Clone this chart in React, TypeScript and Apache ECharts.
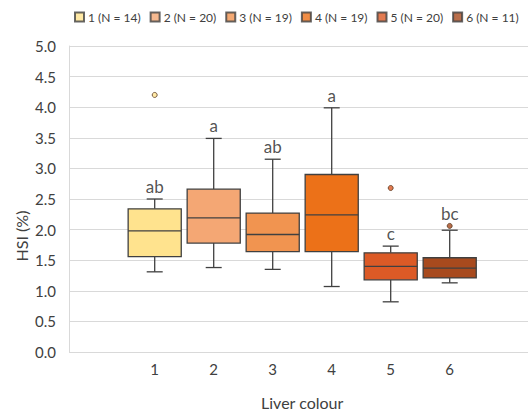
import React, { useEffect, useRef } from "react";
import * as echarts from "echarts";

const categories = ["1", "2", "3", "4", "5", "6"];
const legendNames = ["1 (N = 14)", "2 (N = 20)", "3 (N = 19)", "4 (N = 19)", "5 (N = 20)", "6 (N = 11)"];
const colors = ["#ffe38e", "#f4a774", "#f19450", "#ec7118", "#dc5a26", "#a84a1e"];
// [whiskerLow, Q1, median, Q3, whiskerHigh]
const boxValues = [
  [1.31, 1.56, 1.98, 2.34, 2.5],
  [1.38, 1.78, 2.19, 2.66, 3.49],
  [1.35, 1.64, 1.92, 2.27, 3.15],
  [1.07, 1.64, 2.24, 2.9, 3.99],
  [0.82, 1.18, 1.4, 1.62, 1.73],
  [1.13, 1.21, 1.37, 1.54, 1.99],
];
// [categoryIndex, value]
const outliers = [
  [0, 4.2],
  [4, 2.68],
  [5, 2.06],
];
const letters = ["ab", "a", "ab", "a", "c", "bc"];
const letterAnchors = [2.5, 3.49, 3.15, 3.99, 1.73, 2.06];
const yTicks = [0, 5, 0.5];

export default function App() {
  const ref = useRef<HTMLDivElement>(null);
  useEffect(() => {
    document.body.style.margin = "0";
    const chart = echarts.init(ref.current!, null, { renderer: "svg" });
    const font = "Lato, 'Open Sans', sans-serif";
    const option: any = {
      animation: false,
      backgroundColor: "#ffffff",
      textStyle: { fontFamily: font },
      legend: {
        top: 11,
        left: 74,
        width: 455,
        padding: 0,
        itemWidth: 9,
        itemHeight: 9,
        itemGap: 9,
        icon: "rect",
        textStyle: { fontSize: 12, color: "#404040", fontFamily: font, padding: [0, 0, 0, -1] },
        data: legendNames,
      },
      grid: [
        { left: 69, right: 1, top: 46, bottom: 60, outerBoundsMode: "none", containLabel: false },
        { left: 125.2, right: 49.8, top: 46, bottom: 60, outerBoundsMode: "none", containLabel: false },
      ],
      xAxis: [
        { type: "value", gridIndex: 0, min: 0, max: 1, show: false },
        {
          type: "category",
          gridIndex: 1,
          data: categories,
          axisLine: { show: false },
          axisTick: { show: false },
          axisLabel: { fontSize: 15, color: "#404040", margin: 9, fontFamily: font },
          name: "Liver colour",
          nameLocation: "middle",
          nameGap: 42,
          nameTextStyle: { fontSize: 16, color: "#404040", fontFamily: font },
        },
      ],
      yAxis: [
        {
          type: "value",
          gridIndex: 0,
          min: yTicks[0],
          max: yTicks[1],
          interval: yTicks[2],
          axisLine: { show: true, lineStyle: { color: "#d9d9d9" } },
          axisTick: { show: false },
          splitLine: { lineStyle: { color: "#d9d9d9", width: 1 } },
          axisLabel: {
            fontSize: 15,
            color: "#404040",
            margin: 13,
            fontFamily: font,
            formatter: (v: number) => v.toFixed(1),
          },
        },
        { type: "value", gridIndex: 1, min: yTicks[0], max: yTicks[1], show: false },
      ],
      graphic: [
        {
          type: "text",
          x: 21,
          y: 236,
          rotation: Math.PI / 2,
          style: {
            text: "HSI (%)",
            fill: "#404040",
            fontSize: 16,
            fontFamily: font,
            align: "center",
            verticalAlign: "middle",
          },
        },
      ],
      series: [
        ...legendNames.map((n, i) => ({
          name: n,
          type: "scatter",
          xAxisIndex: 1,
          yAxisIndex: 1,
          data: [],
          itemStyle: { color: colors[i], borderColor: "#404040", borderWidth: 1 },
        })),
        {
          type: "custom",
          xAxisIndex: 1,
          yAxisIndex: 1,
          data: boxValues.map((b, i) => [i, ...b]),
          renderItem: (params: any, api: any) => {
            const i = api.value(0);
            const lo = api.value(1), q1 = api.value(2), med = api.value(3), q3 = api.value(4), hi = api.value(5);
            const band = api.size([1, 0])[0];
            const w = band * 0.9;
            const cap = 16;
            const pLo = api.coord([i, lo]);
            const pQ1 = api.coord([i, q1]);
            const pMed = api.coord([i, med]);
            const pQ3 = api.coord([i, q3]);
            const pHi = api.coord([i, hi]);
            const cx = pLo[0];
            const stroke = { stroke: "#404040", lineWidth: 1.3 };
            return {
              type: "group",
              children: [
                { type: "line", shape: { x1: cx, y1: pHi[1], x2: cx, y2: pQ3[1] }, style: stroke },
                { type: "line", shape: { x1: cx, y1: pQ1[1], x2: cx, y2: pLo[1] }, style: stroke },
                { type: "line", shape: { x1: cx - cap / 2, y1: pHi[1], x2: cx + cap / 2, y2: pHi[1] }, style: stroke },
                { type: "line", shape: { x1: cx - cap / 2, y1: pLo[1], x2: cx + cap / 2, y2: pLo[1] }, style: stroke },
                {
                  type: "rect",
                  shape: { x: cx - w / 2, y: pQ3[1], width: w, height: pQ1[1] - pQ3[1] },
                  style: { fill: colors[i], stroke: "#404040", lineWidth: 1.3 },
                },
                { type: "line", shape: { x1: cx - w / 2, y1: pMed[1], x2: cx + w / 2, y2: pMed[1] }, style: stroke },
              ],
            };
          },
        },
        {
          type: "scatter",
          xAxisIndex: 1,
          yAxisIndex: 1,
          symbol: "circle",
          symbolSize: 5,
          data: outliers.map((o) => ({
            value: o,
            itemStyle: { color: colors[o[0]], borderColor: "#5a3a20", borderWidth: 1 },
          })),
        },
        {
          type: "scatter",
          xAxisIndex: 1,
          yAxisIndex: 1,
          symbolSize: 0,
          silent: true,
          data: letterAnchors.map((v, i) => ({
            value: [i, v],
            label: {
              show: true,
              position: "top",
              distance: 4,
              formatter: letters[i],
              fontSize: 17,
              color: "#262626",
              fontFamily: font,
            },
          })),
        },
      ],
    };
    chart.setOption(option);
    return () => chart.dispose();
  }, []);
  return <div ref={ref} style={{ width: 529, height: 412 }} />;
}
